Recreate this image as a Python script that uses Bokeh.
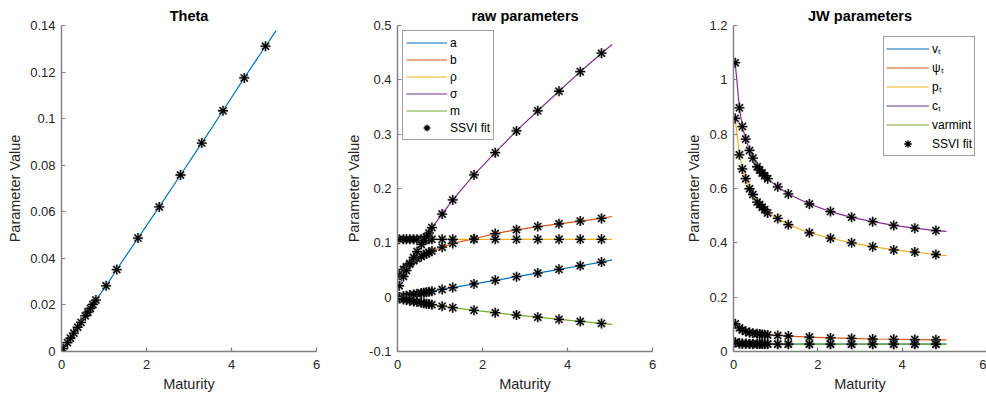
from bokeh.plotting import figure
from bokeh.layouts import row
from bokeh.models import Range1d, FixedTicker, Legend, LegendItem
from bokeh.embed import file_html
from bokeh.resources import INLINE

# ---------------- data ----------------
maturity = [0.04, 0.14, 0.21, 0.29, 0.38, 0.46, 0.56, 0.62, 0.68, 0.74, 0.81,
            1.05, 1.30, 1.80, 2.30, 2.80, 3.30, 3.80, 4.30, 4.80]
curve_end = 5.05

theta = [0.0012, 0.0038, 0.0057, 0.0079, 0.0104, 0.0125, 0.0153, 0.0169, 0.0185, 0.0202, 0.0221,
         0.0282, 0.0352, 0.0487, 0.0621, 0.0758, 0.0895, 0.1034, 0.1175, 0.1311]
theta_end = 0.1378

raw_a = [0.0005, 0.0019, 0.0028, 0.0039, 0.0051, 0.0062, 0.0075, 0.0083, 0.0091, 0.0099, 0.0109,
         0.0142, 0.0176, 0.0243, 0.0310, 0.0377, 0.0444, 0.0512, 0.0578, 0.0645]
raw_a_end = 0.0685
raw_b = [0.041, 0.051, 0.056, 0.062, 0.067, 0.071, 0.075, 0.078, 0.080, 0.082, 0.085,
         0.092, 0.099, 0.1075, 0.117, 0.124, 0.130, 0.135, 0.140, 0.145]
raw_b_end = 0.1485
raw_rho = [0.1065, 0.1065, 0.1065, 0.1065, 0.1065, 0.1065, 0.1065, 0.1065, 0.1065, 0.1065, 0.1065,
           0.1065, 0.1065, 0.1065, 0.1065, 0.1065, 0.1065, 0.1065, 0.1065, 0.1065]
raw_rho_end = 0.1065
raw_sigma = [0.021, 0.038, 0.049, 0.061, 0.073, 0.084, 0.097, 0.104, 0.111, 0.118, 0.128,
             0.153, 0.179, 0.225, 0.266, 0.306, 0.343, 0.379, 0.415, 0.449]
raw_sigma_end = 0.465
raw_m = [-0.0023, -0.0041, -0.0053, -0.0066, -0.0079, -0.0090, -0.0104, -0.0112, -0.0119, -0.0127, -0.0138,
         -0.0165, -0.0193, -0.0242, -0.0286, -0.0329, -0.0369, -0.0408, -0.0447, -0.0483]
raw_m_end = -0.0500

jw_v = [0.034, 0.030, 0.029, 0.0285, 0.028, 0.028, 0.0278, 0.0277, 0.0276, 0.0276, 0.0275,
        0.0274, 0.0273, 0.0272, 0.0272, 0.0272, 0.0272, 0.0272, 0.0272, 0.0272]
jw_v_end = 0.0272
jw_psi = [0.102, 0.087, 0.079, 0.074, 0.070, 0.067, 0.065, 0.064, 0.063, 0.062, 0.061,
          0.059, 0.057, 0.053, 0.050, 0.048, 0.046, 0.045, 0.044, 0.043]
jw_psi_end = 0.0425
jw_p = [0.858, 0.724, 0.672, 0.636, 0.599, 0.578, 0.550, 0.541, 0.531, 0.522, 0.510,
        0.490, 0.467, 0.437, 0.417, 0.400, 0.386, 0.374, 0.366, 0.357]
jw_p_end = 0.353
jw_c = [1.063, 0.897, 0.828, 0.782, 0.740, 0.712, 0.680, 0.668, 0.657, 0.647, 0.636,
        0.606, 0.580, 0.543, 0.515, 0.494, 0.478, 0.464, 0.454, 0.445]
jw_c_end = 0.442
jw_varmint = [0.033, 0.0297, 0.0288, 0.0282, 0.0278, 0.0277, 0.0275, 0.0274, 0.0274, 0.0273, 0.0272,
              0.0271, 0.0270, 0.0270, 0.0269, 0.0269, 0.0269, 0.0269, 0.0269, 0.0269]
jw_varmint_end = 0.0269

x_ticks = [0, 2, 4, 6]
x_labels = ["0", "2", "4", "6"]
theta_yticks = [0, 0.02, 0.04, 0.06, 0.08, 0.1, 0.12, 0.14]
theta_ylabels = ["0", "0.02", "0.04", "0.06", "0.08", "0.1", "0.12", "0.14"]
raw_yticks = [-0.1, 0, 0.1, 0.2, 0.3, 0.4, 0.5]
raw_ylabels = ["-0.1", "0", "0.1", "0.2", "0.3", "0.4", "0.5"]
jw_yticks = [0, 0.2, 0.4, 0.6, 0.8, 1, 1.2]
jw_ylabels = ["0", "0.2", "0.4", "0.6", "0.8", "1", "1.2"]

raw_names = ["a", "b", "\u03c1", "\u03c3", "m"]
jw_names = ["v\u209c", "\u03c8\u209c", "p\u209c", "c\u209c", "varmint"]
fit_label = "SSVI fit"

COLORS = ["#0072BD", "#D95319", "#EDB120", "#7E2F8E", "#77AC30"]
FONT = "Liberation Sans"
AXIS_COLOR = "#808080"
TEXT_COLOR = "#262626"


def make_fig(title, yr, yticks, ylabels, left, fw, right):
    p = figure(frame_width=fw, frame_height=326,
               min_border_left=left, min_border_right=right,
               min_border_top=25, min_border_bottom=42,
               x_range=Range1d(0, 6), y_range=Range1d(*yr),
               output_backend="svg", toolbar_location=None, title=title)
    p.xgrid.visible = False
    p.ygrid.visible = False
    p.outline_line_color = None
    p.background_fill_color = "white"
    p.border_fill_color = "white"
    p.title.align = "center"
    p.title.text_font = FONT
    p.title.text_font_size = "14.5px"
    p.title.text_font_style = "bold"
    p.title.text_color = "black"
    p.title.standoff = 4
    p.xaxis.ticker = FixedTicker(ticks=x_ticks)
    p.xaxis.major_label_overrides = dict(zip(x_ticks, x_labels))
    p.yaxis.ticker = FixedTicker(ticks=yticks)
    p.yaxis.major_label_overrides = dict(zip(yticks, ylabels))
    p.xaxis.axis_label = "Maturity"
    p.yaxis.axis_label = "Parameter Value"
    for ax in (p.xaxis[0], p.yaxis[0]):
        ax.axis_line_color = AXIS_COLOR
        ax.axis_line_width = 1.4
        ax.major_tick_line_color = AXIS_COLOR
        ax.major_tick_line_width = 1.2
        ax.major_tick_in = 4
        ax.major_tick_out = 0
        ax.minor_tick_line_color = None
        ax.major_label_text_font = FONT
        ax.major_label_text_font_size = "13px"
        ax.major_label_text_color = TEXT_COLOR
        ax.axis_label_text_font = FONT
        ax.axis_label_text_font_size = "14.5px"
        ax.axis_label_text_font_style = "normal"
        ax.axis_label_text_color = TEXT_COLOR
        ax.axis_label_standoff = 4
    p.xaxis.major_label_standoff = 8
    p.yaxis.major_label_standoff = 6
    return p


def add_series(p, xs, ys, yend, color):
    return p.line(xs + [curve_end], ys + [yend], line_color=color, line_width=1.2)


def add_markers(p, xs, ys):
    p.scatter(xs, ys, marker="asterisk", size=10, line_color="#8c8c8c",
              line_width=2.6, line_alpha=0.55)
    return p.scatter(xs, ys, marker="asterisk", size=10, line_color="black", line_width=1.3)


def style_legend(leg, gh, pad, gw, standoff):
    leg.label_text_font = FONT
    leg.label_text_font_size = "12px"
    leg.label_text_color = "black"
    leg.glyph_width = gw
    leg.glyph_height = gh
    leg.label_height = gh
    leg.label_standoff = standoff
    leg.spacing = 0
    leg.padding = pad
    leg.border_line_color = "#404040"
    leg.border_line_width = 1
    leg.background_fill_color = "white"
    leg.background_fill_alpha = 1


# ---------------- panel 1: Theta ----------------
p1 = make_fig("Theta", (0, 0.14), theta_yticks, theta_ylabels, 61, 255, 14)
add_series(p1, maturity, theta, theta_end, COLORS[0])
add_markers(p1, maturity, theta)

# ---------------- panel 2: raw parameters ----------------
p2 = make_fig("raw parameters", (-0.1, 0.5), raw_yticks, raw_ylabels, 67, 255, 8)
raw_series = [(raw_a, raw_a_end), (raw_b, raw_b_end), (raw_rho, raw_rho_end),
              (raw_sigma, raw_sigma_end), (raw_m, raw_m_end)]
raw_lines = [add_series(p2, maturity, s, e, c) for (s, e), c in zip(raw_series, COLORS)]
raw_marks = [add_markers(p2, maturity, s) for s, e in raw_series]
items2 = [LegendItem(label=n, renderers=[r]) for n, r in zip(raw_names, raw_lines)]
items2.append(LegendItem(label=fit_label, renderers=[raw_marks[0]]))
leg2 = Legend(items=items2, location="top_left", margin=5)
style_legend(leg2, 17, 3, 41, 3)
p2.add_layout(leg2)

# ---------------- panel 3: JW parameters ----------------
p3 = make_fig("JW parameters", (0, 1.2), jw_yticks, jw_ylabels, 73, 253, 0)
jw_series = [(jw_v, jw_v_end), (jw_psi, jw_psi_end), (jw_p, jw_p_end),
             (jw_c, jw_c_end), (jw_varmint, jw_varmint_end)]
jw_lines = [add_series(p3, maturity, s, e, c) for (s, e), c in zip(jw_series, COLORS)]
jw_marks = [add_markers(p3, maturity, s) for s, e in jw_series]
items3 = [LegendItem(label=n, renderers=[r]) for n, r in zip(jw_names, jw_lines)]
items3.append(LegendItem(label=fit_label, renderers=[jw_marks[0]]))
leg3 = Legend(items=items3, location="top_right", margin=11)
style_legend(leg3, 19, 2, 43, 3)
p3.add_layout(leg3)

layout = row(p1, p2, p3)
open("out.html", "w").write(file_html(layout, INLINE))
